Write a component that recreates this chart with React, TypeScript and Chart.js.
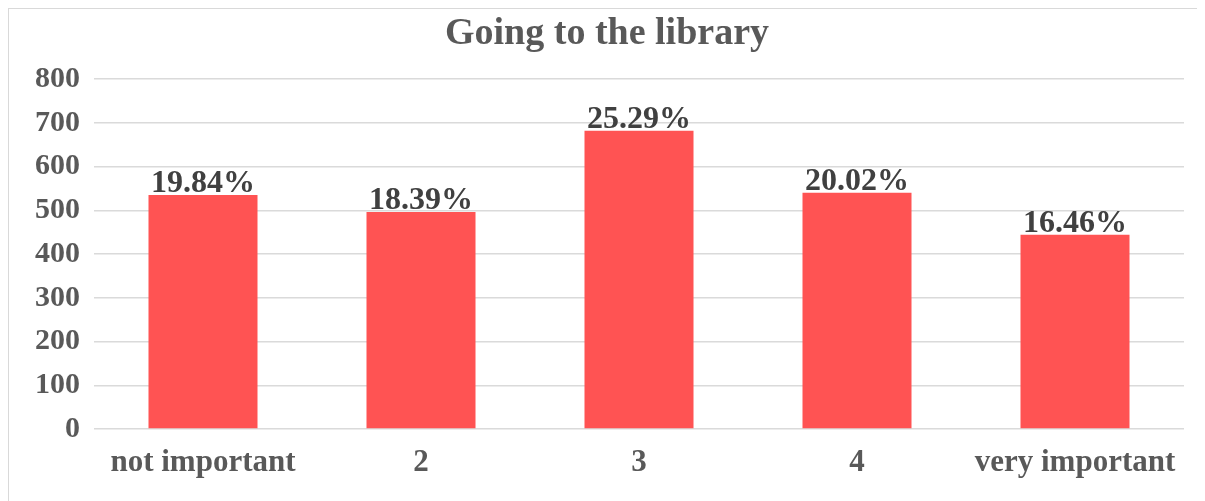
import React, { useEffect, useRef } from "react";
import { Chart, registerables } from "chart.js";

Chart.register(...registerables);

const categories = ["not important", "2", "3", "4", "very important"];
const counts = [535, 496, 682, 540, 444];
const percentLabels = ["19.84%", "18.39%", "25.29%", "20.02%", "16.46%"];
const chartTitle = "Going to the library";

const FONT = "'Liberation Serif', 'Times New Roman', serif";

const dataLabelPlugin = {
  id: "dataLabels",
  afterDatasetsDraw(chart: any) {
    const ctx = chart.ctx;
    const meta = chart.getDatasetMeta(0);
    ctx.save();
    ctx.font = `bold 32px ${FONT}`;
    ctx.fillStyle = "#404040";
    ctx.textAlign = "center";
    ctx.textBaseline = "alphabetic";
    meta.data.forEach((bar: any, i: number) => {
      ctx.fillText(percentLabels[i], bar.x, bar.y - 3);
    });
    ctx.restore();
  },
};

const centeredTitlePlugin = {
  id: "centeredTitle",
  afterDraw(chart: any) {
    const ctx = chart.ctx;
    ctx.save();
    ctx.font = `bold 38px ${FONT}`;
    ctx.fillStyle = "#595959";
    ctx.textAlign = "center";
    ctx.textBaseline = "middle";
    ctx.fillText(chartTitle, chart.width / 2, 25);
    ctx.restore();
  },
};

export default function App() {
  const canvasRef = useRef<HTMLCanvasElement | null>(null);

  useEffect(() => {
    document.documentElement.style.overflow = "hidden";
    document.body.style.overflow = "hidden";
    if (!canvasRef.current) return;
    const chart = new Chart(canvasRef.current, {
      type: "bar",
      data: {
        labels: categories,
        datasets: [
          {
            data: counts,
            backgroundColor: "#FF5353",
            borderWidth: 0,
            categoryPercentage: 1,
            barPercentage: 0.5,
          },
        ],
      },
      options: {
        responsive: false,
        animation: false,
        layout: { padding: { left: 0, right: 21, top: 70, bottom: 0 } },
        plugins: {
          legend: { display: false },
          tooltip: { enabled: false },
          title: { display: false },
        },
        scales: {
          x: {
            grid: { display: false, drawTicks: false },
            border: { display: false },
            ticks: {
              color: "#595959",
              font: { family: FONT, size: 31, weight: "bold" },
              padding: 15,
              maxRotation: 0,
              autoSkip: false,
            },
            afterFit: (s: any) => {
              s.height = 72;
            },
          },
          y: {
            min: 0,
            max: 800,
            grid: { color: "#DADADA", lineWidth: 1.5, drawTicks: false },
            border: { display: false },
            ticks: {
              stepSize: 100,
              color: "#595959",
              font: { family: FONT, size: 30, weight: "bold" },
              padding: 14,
            },
            afterFit: (s: any) => {
              s.width = 85;
            },
          },
        },
      },
      plugins: [dataLabelPlugin, centeredTitlePlugin],
    });
    return () => chart.destroy();
  }, []);

  return (
    <div
      style={{
        width: 1197,
        height: 493,
        borderLeft: "1px solid #D9D9D9",
        borderTop: "1px solid #D9D9D9",
        background: "#fff",
        overflow: "hidden",
      }}
    >
      <canvas ref={canvasRef} width={1196} height={492} style={{ display: "block" }} />
    </div>
  );
}
